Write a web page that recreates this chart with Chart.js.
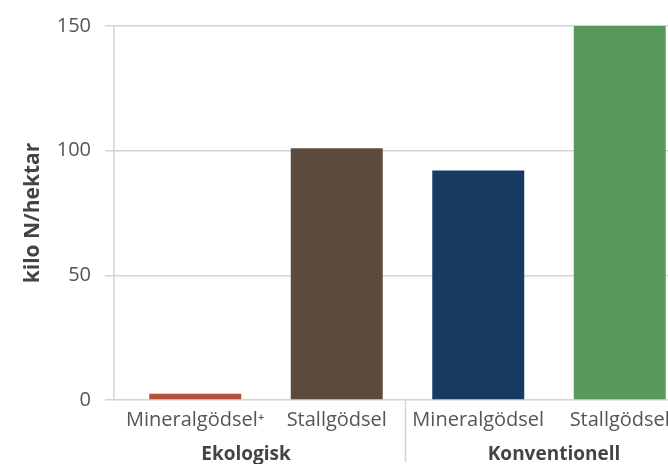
<!DOCTYPE html>
<html>
<head>
<meta charset="utf-8">
<script src="https://cdn.jsdelivr.net/npm/chart.js@4/dist/chart.umd.min.js"></script>
<style>
  html, body { margin: 0; padding: 0; background: #fff; overflow: hidden; }
  #wrap { width: 700px; height: 464px; }
</style>
</head>
<body>
<div id="wrap"><canvas id="kvaveChart"></canvas></div>
<script>
const categories = ["Mineralgödsel⁺", "Stallgödsel", "Mineralgödsel", "Stallgödsel"];
const values = [2.5, 101, 92, 150];
const barColors = ["#b1503b", "#5c4b3d", "#173a63", "#589858"];
const groups = ["Ekologisk", "Konventionell"];
const yTicks = [0, 50, 100, 150];

const FONT = "'Open Sans', 'Noto Sans', sans-serif";
const gridColor = "#d4d4d4";

// y-axis line sits a little left of the first category, plus group labels and divider
const extrasPlugin = {
  id: "extras",
  afterDraw(chart) {
    const { ctx, chartArea } = chart;
    const x = chart.scales.x;
    ctx.save();
    ctx.strokeStyle = gridColor;
    ctx.lineWidth = 1.5;
    ctx.beginPath();
    ctx.moveTo(chartArea.left - 10.5, chartArea.top);
    ctx.lineTo(chartArea.left - 10.5, chartArea.bottom);
    ctx.stroke();

    const sepX = (x.getPixelForValue(1) + x.getPixelForValue(2)) / 2 - 2;
    ctx.beginPath();
    ctx.moveTo(sepX, chartArea.bottom);
    ctx.lineTo(sepX, chartArea.bottom + 62);
    ctx.stroke();

    ctx.fillStyle = "#444";
    ctx.font = "bold 19px " + FONT;
    ctx.textAlign = "center";
    ctx.textBaseline = "middle";
    const g1 = (x.getPixelForValue(0) + x.getPixelForValue(1)) / 2 - 20;
    const g2 = (x.getPixelForValue(2) + x.getPixelForValue(3)) / 2 + 5;
    ctx.fillText(groups[0], g1, chartArea.bottom + 55);
    ctx.fillText(groups[1], g2, chartArea.bottom + 55);
    ctx.restore();
  }
};

new Chart(document.getElementById("kvaveChart"), {
  type: "bar",
  data: {
    labels: categories,
    datasets: [{
      data: values,
      backgroundColor: barColors,
      borderWidth: 0,
      barPercentage: 0.65,
      categoryPercentage: 1
    }]
  },
  options: {
    responsive: true,
    maintainAspectRatio: false,
    animation: false,
    layout: { padding: { top: 24, left: 0, right: 9.5, bottom: 0 } },
    plugins: {
      legend: { display: false },
      tooltip: { enabled: false }
    },
    scales: {
      x: {
        offset: true,
        grid: { display: false, drawTicks: false },
        border: { display: false },
        ticks: {
          color: "#555",
          font: { family: FONT, size: 20 },
          padding: 8,
          maxRotation: 0,
          autoSkip: false
        },
        afterFit(scale) { scale.height = 64; }
      },
      y: {
        min: 0,
        max: 150,
        afterBuildTicks(scale) { scale.ticks = yTicks.map(v => ({ value: v })); },
        grid: { color: gridColor, lineWidth: 1.5, tickLength: 19.5 },
        border: { display: false },
        ticks: {
          color: "#555",
          font: { family: FONT, size: 20 },
          padding: 14
        },
        title: {
          display: true,
          text: "kilo N/hektar",
          color: "#444",
          font: { family: FONT, size: 21, weight: "bold" },
          padding: { top: 20, bottom: 0 }
        },
        afterFit(scale) { scale.width = 124.5; }
      }
    }
  },
  plugins: [extrasPlugin]
});
</script>
</body>
</html>
